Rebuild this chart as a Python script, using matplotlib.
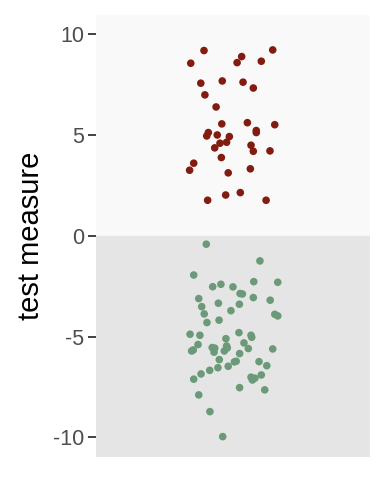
import matplotlib
matplotlib.use("Agg")
import matplotlib.pyplot as plt

# jitter offsets (around the single category) and values
pos_jitter = [-0.127, -0.185, 0.038, 0.018, 0.124, 0.174, -0.141, -0.047, 0.044, 0.089,
              -0.123, -0.074, -0.049, 0.063, 0.183, 0.102, 0.102, -0.108, -0.115, -0.069,
              -0.057, -0.016, -0.028, -0.080, 0.079, 0.089, 0.162, -0.051, -0.172, -0.190,
              -0.021, 0.076, 0.032, -0.032, -0.111, 0.145]
pos_values = [9.20, 8.57, 8.90, 8.60, 8.67, 9.23, 7.58, 7.69, 7.63, 7.34,
              7.00, 6.40, 5.56, 5.62, 5.52, 5.23, 5.13, 5.13, 4.96, 5.01,
              4.60, 4.93, 4.65, 4.37, 4.50, 4.20, 4.22, 3.89, 3.61, 3.26,
              3.13, 3.33, 2.15, 2.03, 1.77, 1.77]

neg_jitter = [-0.117, 0.118, -0.172, -0.089, -0.053, 0.000, 0.091, 0.196, 0.031, 0.041,
              -0.150, 0.089, 0.163, -0.137, -0.064, 0.028, -0.009, -0.126, 0.183, 0.196,
              -0.114, -0.061, -0.188, -0.145, 0.026, 0.079, 0.082, -0.031, -0.153, -0.181,
              -0.174, -0.091, -0.080, -0.083, -0.028, -0.025, -0.038, 0.048, 0.067, 0.174,
              0.029, -0.060, 0.014, 0.006, 0.114, 0.148, -0.066, -0.021, -0.102, -0.140,
              -0.172, 0.079, 0.096, 0.124, 0.085, 0.029, 0.139, -0.150, -0.101, -0.045]
neg_values = [-0.41, -1.24, -1.94, -2.52, -2.40, -2.53, -2.27, -2.30, -2.86, -2.88,
              -3.11, -3.06, -3.19, -3.51, -3.34, -3.39, -3.71, -3.87, -3.89, -3.97,
              -4.30, -4.18, -4.88, -4.93, -4.80, -4.93, -5.03, -5.10, -5.39, -5.71,
              -5.66, -5.54, -5.57, -5.77, -5.46, -5.56, -5.71, -5.31, -5.59, -5.61,
              -5.84, -6.14, -6.22, -6.25, -6.24, -6.44, -6.54, -6.47, -6.67, -6.85,
              -7.11, -7.01, -7.06, -6.90, -7.15, -7.53, -7.64, -7.89, -8.72, -9.96]

yticks = [-10, -5, 0, 5, 10]

plt.rcParams['font.family'] = ['Liberation Sans', 'DejaVu Sans']

fig = plt.figure(figsize=(3.84, 4.8), dpi=100)
ax = fig.add_axes([0.25, 0.048, 0.7135, 0.921])

ax.axhspan(0, 11, color='#f9f9f9', zorder=0)
ax.axhspan(-11, 0, color='#e5e5e5', zorder=0)

ax.scatter([1 + j for j in pos_jitter], pos_values, s=30, color='#821c10', edgecolors='none', zorder=3)
ax.scatter([1 + j for j in neg_jitter], neg_values, s=30, color='#6b9a78', edgecolors='none', zorder=3)

ax.set_xlim(0.4, 1.6)
ax.set_ylim(-10.97, 10.97)
ax.set_xticks([])
ax.set_yticks(yticks)
ax.set_yticklabels([str(t) for t in yticks])
ax.tick_params(axis='y', length=5.5, width=1.3, color='#333333', labelcolor='#4d4d4d',
               labelsize=15.5, pad=3)
for s in ax.spines.values():
    s.set_visible(False)
ax.set_ylabel('test measure', fontsize=21, color='black', labelpad=6)

fig.savefig('out.png', dpi=100, facecolor='white')
